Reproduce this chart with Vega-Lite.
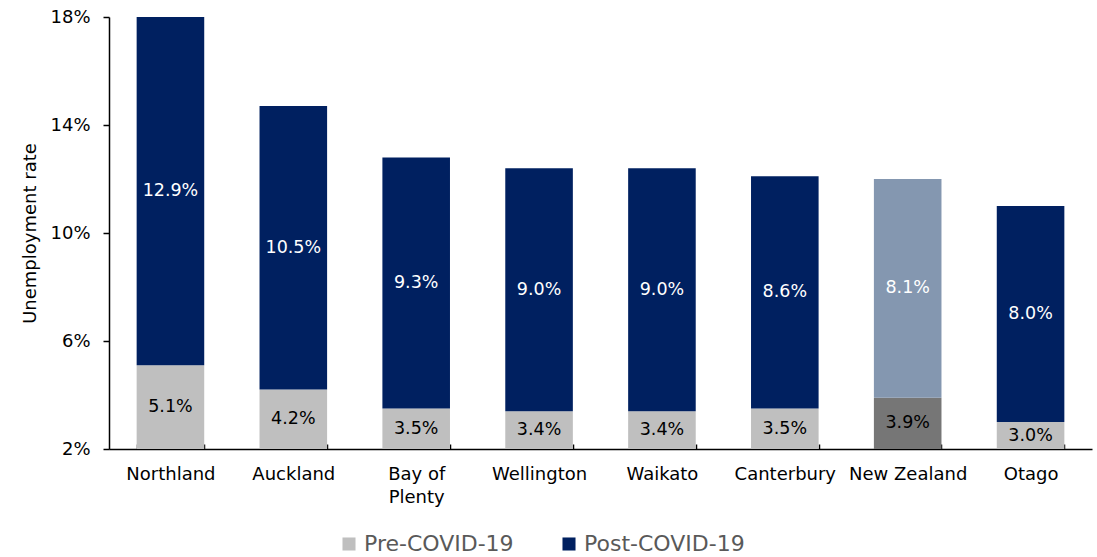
{
  "$schema": "https://vega.github.io/schema/vega-lite/v6.json",
  "autosize": {"type": "none"},
  "width": 983,
  "height": 432,
  "padding": {"left": 109, "top": 17, "right": 5, "bottom": 108},
  "background": "white",
  "config": {
    "font": "DejaVu Sans",
    "view": {"stroke": null}
  },
  "data": {
    "values": [
      {"region": "Northland", "period": "Pre-COVID-19", "value": 5.1},
      {"region": "Northland", "period": "Post-COVID-19", "value": 12.9},
      {"region": "Auckland", "period": "Pre-COVID-19", "value": 4.2},
      {"region": "Auckland", "period": "Post-COVID-19", "value": 10.5},
      {"region": "Bay of Plenty", "period": "Pre-COVID-19", "value": 3.5},
      {"region": "Bay of Plenty", "period": "Post-COVID-19", "value": 9.3},
      {"region": "Wellington", "period": "Pre-COVID-19", "value": 3.4},
      {"region": "Wellington", "period": "Post-COVID-19", "value": 9.0},
      {"region": "Waikato", "period": "Pre-COVID-19", "value": 3.4},
      {"region": "Waikato", "period": "Post-COVID-19", "value": 9.0},
      {"region": "Canterbury", "period": "Pre-COVID-19", "value": 3.5},
      {"region": "Canterbury", "period": "Post-COVID-19", "value": 8.6},
      {"region": "New Zealand", "period": "Pre-COVID-19", "value": 3.9},
      {"region": "New Zealand", "period": "Post-COVID-19", "value": 8.1},
      {"region": "Otago", "period": "Pre-COVID-19", "value": 3.0},
      {"region": "Otago", "period": "Post-COVID-19", "value": 8.0}
    ]
  },
  "transform": [
    {"stack": "value", "groupby": ["region"], "sort": [{"field": "period", "order": "descending"}], "as": ["y0", "y1"]},
    {"calculate": "(max(datum.y0, 2) + datum.y1) / 2", "as": "mid"},
    {"calculate": "format(datum.value, '.1f') + '%'", "as": "label"}
  ],
  "encoding": {
    "x": {
      "field": "region",
      "type": "nominal",
      "sort": null,
      "scale": {"paddingInner": 0.45, "paddingOuter": 0.225},
      "axis": {
        "title": null,
        "labelAngle": 0,
        "labelFontSize": 18,
        "labelColor": "#000000",
        "labelPadding": 21,
        "labelExpr": "datum.label == 'Bay of Plenty' ? ['Bay of', 'Plenty'] : datum.label",
        "labelLineHeight": 23,
        "domainColor": "#000000",
        "domainWidth": 1.5,
        "tickColor": "#000000",
        "tickWidth": 1.5,
        "tickSize": -5,
        "tickBand": "extent"
      }
    }
  },
  "layer": [
    {
      "mark": {"type": "bar", "clip": true},
      "encoding": {
        "y": {
          "field": "y0",
          "type": "quantitative",
          "scale": {"domain": [2, 18], "nice": false, "zero": false},
          "axis": {
            "title": "Unemployment rate",
            "titleFontSize": 18,
            "titleFontWeight": "normal",
            "titleColor": "#000000",
            "titlePadding": 10,
            "values": [2, 6, 10, 14, 18],
            "labelExpr": "datum.value + '%'",
            "labelFontSize": 18,
            "labelColor": "#000000",
            "labelPadding": 13,
            "grid": false,
            "domainColor": "#000000",
            "domainWidth": 1.5,
            "tickColor": "#000000",
            "tickWidth": 1.5,
            "tickSize": 6
          }
        },
        "y2": {"field": "y1"},
        "color": {
          "condition": [
            {"test": "datum.region === 'New Zealand' && datum.period === 'Pre-COVID-19'", "value": "#767676"},
            {"test": "datum.region === 'New Zealand' && datum.period === 'Post-COVID-19'", "value": "#8497B0"}
          ],
          "field": "period",
          "type": "nominal",
          "scale": {"domain": ["Pre-COVID-19", "Post-COVID-19"], "range": ["#BFBFBF", "#002060"]},
          "legend": {
            "title": null,
            "orient": "none",
            "legendX": 229,
            "legendY": 516,
            "direction": "horizontal",
            "labelFontSize": 22,
            "labelColor": "#595959",
            "labelLimit": 400,
            "symbolType": "square",
            "symbolSize": 170,
            "symbolStrokeWidth": 0,
            "labelOffset": 4,
            "columnPadding": 44
          }
        }
      }
    },
    {
      "mark": {"type": "text", "fontSize": 17.5, "baseline": "middle", "align": "center"},
      "encoding": {
        "y": {"field": "mid", "type": "quantitative"},
        "text": {"field": "label"},
        "color": {
          "condition": {"test": "datum.period === 'Pre-COVID-19'", "value": "#000000"},
          "value": "#ffffff"
        }
      }
    }
  ]
}
